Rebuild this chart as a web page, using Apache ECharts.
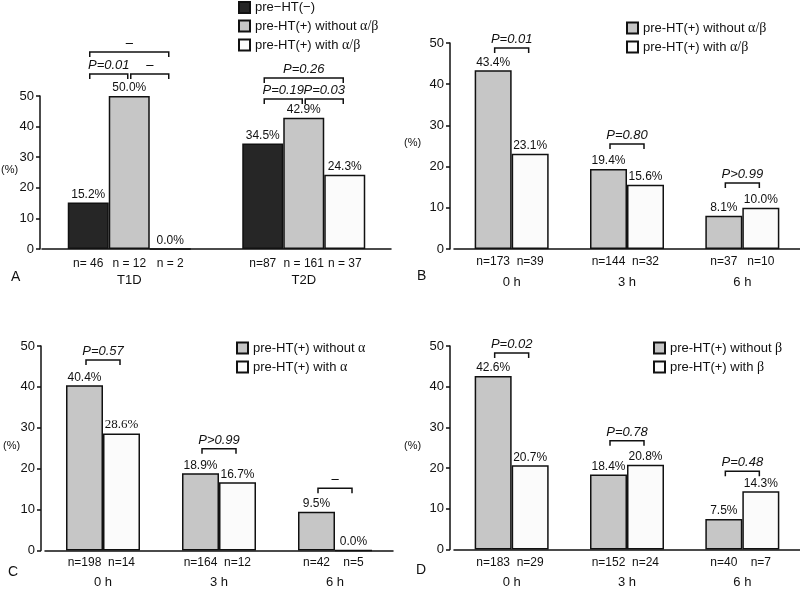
<!DOCTYPE html>
<html><head><meta charset="utf-8">
<script src="https://cdn.jsdelivr.net/npm/echarts@6/dist/echarts.min.js"></script>
<style>html,body{margin:0;padding:0;background:#fff}#c{width:800px;height:589px}</style>
</head><body><div id="c"></div>
<script>
// ---- data ----
const catsA = ['T1D', 'T2D'];
const aNeg = [15.2, 34.5];
const aWithout = [50.0, 42.9];
const aWith = [0.0, 24.3];
const nA = [['n= 46', 'n = 12', 'n = 2'], ['n=87', 'n = 161', 'n = 37']];

const hours = ['0 h', '3 h', '6 h'];
const bWithout = [43.4, 19.4, 8.1];
const bWith = [23.1, 15.6, 10.0];
const nB = [['n=173', 'n=39'], ['n=144', 'n=32'], ['n=37', 'n=10']];

const cWithout = [40.4, 18.9, 9.5];
const cWith = [28.6, 16.7, 0.0];
const nC = [['n=198', 'n=14'], ['n=164', 'n=12'], ['n=42', 'n=5']];

const dWithout = [42.6, 18.4, 7.5];
const dWith = [20.7, 20.8, 14.3];
const nD = [['n=183', 'n=29'], ['n=152', 'n=24'], ['n=40', 'n=7']];

const yTicks = [0, 10, 20, 30, 40, 50];

// brackets: [category, fromBar, toBar, height]
const brA = [[0, 0, 2, 64.4], [0, 0, 1, 57.2], [0, 1, 2, 57.2], [1, 0, 2, 55.9], [1, 0, 1, 49.0], [1, 1, 2, 49.0]];
const brAText = ['–', 'P=0.01', '–', 'P=0.26', 'P=0.19', 'P=0.03'];
const brB = [[0, 0, 1, 48.8], [1, 0, 1, 25.5], [2, 0, 1, 16.0]];
const brBText = ['P=0.01', 'P=0.80', 'P>0.99'];
const brC = [[0, 0, 1, 46.6], [1, 0, 1, 24.9], [2, 0, 1, 15.2]];
const brCText = ['P=0.57', 'P>0.99', '–'];
const brD = [[0, 0, 1, 48.3], [1, 0, 1, 26.7], [2, 0, 1, 19.2]];
const brDText = ['P=0.02', 'P=0.78', 'P=0.48'];

// ---- styles ----
const FONT = '"Liberation Sans", Arial, sans-serif';
const SERIF = '"Liberation Serif", "DejaVu Serif", serif';
const INK = '#111';
const BLACK = '#262626', GRAY = '#c6c6c6', WHITE = '#fbfbfb';
const nameNeg = 'pre−HT(−)';
const nameWoAB = 'pre-HT(+) without α/β', nameWAB = 'pre-HT(+) with α/β';
const nameWoA = 'pre-HT(+) without α', nameWA = 'pre-HT(+) with α';
const nameWoB = 'pre-HT(+) without β', nameWB = 'pre-HT(+) with β';

const pct = p => p.value.toFixed(1) + '%';

function bar(name, idx, data, color, bw) {
  return {
    type: 'bar', name, xAxisIndex: idx, yAxisIndex: idx, data,
    barWidth: bw, barGap: '0%',
    itemStyle: { color, borderColor: INK, borderWidth: 1.5 },
    label: { show: true, position: 'top', distance: 2, formatter: pct, fontFamily: FONT, fontSize: 12, color: INK }
  };
}

function brackets(idx, data, texts, nBars, bw) {
  return {
    type: 'custom', xAxisIndex: idx, yAxisIndex: idx, data, silent: true, z: 10, clip: false,
    renderItem: (params, api) => {
      const c = api.coord([api.value(0), api.value(3)]);
      const x0 = c[0] + (api.value(1) - (nBars - 1) / 2) * bw + 1.5;
      const x1 = c[0] + (api.value(2) - (nBars - 1) / 2) * bw - 1.5;
      const y = c[1];
      return {
        type: 'group', children: [
          { type: 'polyline', shape: { points: [[x0, y + 5], [x0, y], [x1, y], [x1, y + 5]] },
            style: { stroke: INK, lineWidth: 1.5, fill: null } },
          { type: 'text', style: { text: texts[params.dataIndex], x: (x0 + x1) / 2, y: y - 2,
            align: 'center', verticalAlign: 'bottom', font: 'italic 13px ' + FONT, fill: INK } }
        ]
      };
    }
  };
}

function xAxis(idx, cats, ns, bw, margin, lh) {
  return {
    type: 'category', gridIndex: idx, data: cats,
    axisTick: { show: false },
    axisLine: { lineStyle: { color: INK, width: 1.5 } },
    axisLabel: {
      interval: 0, margin, color: INK, fontFamily: FONT,
      formatter: (v, i) => ns[i].map(s => '{n|' + s + '}').join('') + '\n{c|' + v + '}',
      rich: {
        n: { width: bw, align: 'center', fontSize: 12, lineHeight: lh, fontFamily: FONT, color: INK },
        c: { fontSize: 13, lineHeight: lh, fontFamily: FONT, color: INK }
      }
    }
  };
}

function yAxis(idx, offset) {
  return {
    type: 'value', gridIndex: idx, min: yTicks[0], max: yTicks[yTicks.length - 1], interval: 10, offset,
    axisLine: { show: true, lineStyle: { color: INK, width: 1.5 } },
    axisTick: { show: true, length: 4, lineStyle: { color: INK, width: 1.5 } },
    splitLine: { show: false },
    axisLabel: { fontSize: 13, color: INK, margin: 6, fontFamily: FONT }
  };
}

function legend(left, top, names) {
  return {
    orient: 'vertical', left, top, data: names, itemWidth: 11, itemHeight: 11, itemGap: 5, padding: 0,
    icon: 'rect', selectedMode: false,
    textStyle: { fontSize: 13, fontFamily: FONT, color: INK,
      rich: { g: { fontSize: 14, fontFamily: SERIF, color: INK } } },
    formatter: n => n.replace(/(α\/β|α|β)/, '{g|$1}')
  };
}

function txt(x, y, t, size) {
  return { type: 'text', left: x, top: y, style: { text: t, font: size + 'px ' + FONT, fill: INK } };
}

const option = {
  animation: false,
  grid: [
    { left: 42, top: 96, width: 349, height: 153 },
    { left: 454, top: 43, width: 346, height: 206 },
    { left: 45, top: 346, width: 348, height: 207 },
    { left: 454, top: 346, width: 346, height: 206 }
  ],
  xAxis: [
    xAxis(0, catsA, nA, 41, 6, 17),
    xAxis(1, hours, nB, 37, 3, 20),
    xAxis(2, hours, nC, 37, 2, 20),
    xAxis(3, hours, nD, 37, 3, 20)
  ],
  yAxis: [yAxis(0, 2), yAxis(1, 4), yAxis(2, 4), yAxis(3, 4)],
  legend: [
    legend(238, 1, [nameNeg, nameWoAB, nameWAB]),
    legend(626, 21, [nameWoAB, nameWAB]),
    legend(236, 341, [nameWoA, nameWA]),
    legend(653, 341, [nameWoB, nameWB])
  ],
  graphic: [
    txt(1, 164, '(%)', 11), txt(404, 137, '(%)', 11), txt(3, 440, '(%)', 11), txt(404, 440, '(%)', 11),
    txt(11, 270, 'A', 14), txt(417, 269, 'B', 14), txt(8, 565, 'C', 14), txt(416, 563, 'D', 14)
  ],
  series: [
    bar(nameNeg, 0, aNeg, BLACK, 41),
    bar(nameWoAB, 0, aWithout, GRAY, 41),
    bar(nameWAB, 0, aWith, WHITE, 41),
    bar(nameWoAB, 1, bWithout, GRAY, 37),
    bar(nameWAB, 1, bWith, WHITE, 37),
    bar(nameWoA, 2, cWithout, GRAY, 37),
    bar(nameWA, 2, cWith.map((v, i) => i === 0 ? { value: v, label: { fontFamily: SERIF, fontSize: 13 } } : v), WHITE, 37),
    bar(nameWoB, 3, dWithout, GRAY, 37),
    bar(nameWB, 3, dWith, WHITE, 37),
    brackets(0, brA, brAText, 3, 41),
    brackets(1, brB, brBText, 2, 37),
    brackets(2, brC, brCText, 2, 37),
    brackets(3, brD, brDText, 2, 37)
  ]
};
echarts.init(document.getElementById('c'), null, { renderer: 'canvas' }).setOption(option);
</script>
</body></html>
